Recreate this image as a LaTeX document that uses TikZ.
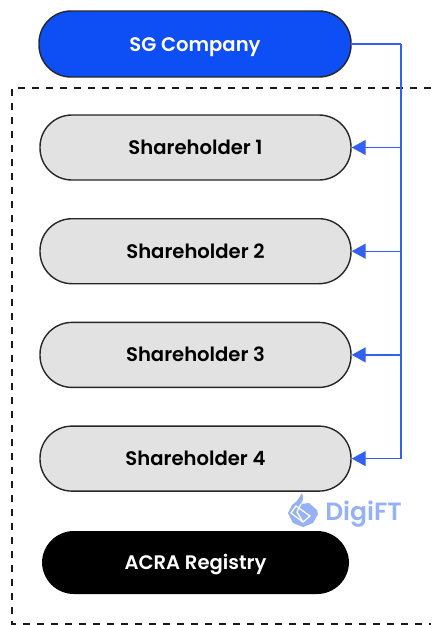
\documentclass[tikz,border=0pt]{standalone}
\usepackage{fontspec}
\setmainfont{Poppins}
\newfontfamily\pillfont{Poppins}[UprightFont=* SemiBold]
\usepackage{xcolor}
\usetikzlibrary{positioning,arrows.meta}

\definecolor{sgblue}{RGB}{13,79,245}
\definecolor{busblue}{RGB}{52,96,240}
\definecolor{shgray}{RGB}{226,226,226}
\definecolor{logoblue}{RGB}{150,178,245}

\tikzset{
	pill/.style={rounded corners=32pt, minimum width=311pt, minimum height=65pt, inner sep=0pt, text height=14pt, text depth=0pt, font=\pillfont\fontsize{19.6pt}{22pt}\selectfont},
	holder/.style={pill, draw=black!85, line width=1.4pt, fill=shgray, text=black},
	bus/.style={draw=busblue, line width=1.4pt},
	busarrow/.style={bus, -{Stealth[length=14pt,width=15pt,inset=0pt]}},
	frame/.style={draw=black!90, line width=1.4pt, dash pattern=on 7pt off 7pt},
}

\begin{document}
\begin{tikzpicture}[x=1pt, y=-1pt, node distance=37.3pt]
	\useasboundingbox (0,0) rectangle (433,625);

	\coordinate (frametl) at (12,88);
	\coordinate (frametr) at (431,88);
	\coordinate (framebl) at (12,624);
	\coordinate (framebr) at (431,624);
	\draw[frame] (frametr) -- (frametl) -- (framebl) -- (framebr);

	\node[pill, draw=black!85, line width=1.4pt, fill=sgblue, text=white, minimum width=312pt, minimum height=66pt] (sg) at (195,44) {SG Company};

	\node[holder] (sh1) at (195.5,147.5) {Shareholder 1};
	\node[holder, below=of sh1] (sh2) {Shareholder 2};
	\node[holder, below=of sh2] (sh3) {Shareholder 3};
	\node[holder, below=of sh3] (sh4) {Shareholder 4};
	\node[pill, fill=black, text=white, minimum width=307pt, minimum height=63pt, below=39pt of sh4] (acra) {ACRA Registry};

	\coordinate (bustop) at (401,44);
	\draw[bus] (sg.east) -- (bustop);
	\foreach \n in {sh1,sh2,sh3,sh4}
		\draw[busarrow] (bustop) |- (\n.east);

	% logo
	\fill[logoblue] (302,493) .. controls (304,498) and (303,501) .. (301,504) -- (309,503) -- (317,510) -- (318,514) -- (313,523) -- (303,527) -- (293,523) -- (288,513) -- (292,505) -- (297,501) -- cycle;
	\draw[white, line width=1.3pt] (296,506) -- (310,516) -- (303,522) -- (291,513) -- cycle;
	\draw[white, line width=1.3pt] (301,504) -- (297,512) -- (303,522);
	\node[text=logoblue, font=\pillfont\fontsize{25pt}{28pt}\selectfont, inner sep=0pt, text height=18pt, text depth=0pt] (logo) at (363.5,511) {DigiFT};
\end{tikzpicture}
\end{document}
